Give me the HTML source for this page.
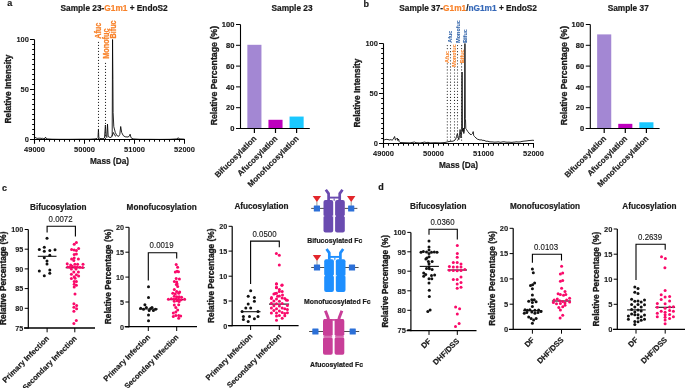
<!DOCTYPE html><html><head><meta charset="utf-8"><style>html,body{margin:0;padding:0;background:#fff}svg{display:block;will-change:transform;font-family:"Liberation Sans",sans-serif}</style></head><body><svg width="685" height="388" viewBox="0 0 685 388"><text transform="translate(7.20 6.10)" font-size="9" font-weight="bold" text-anchor="start" fill="#1a1a1a" stroke="#1a1a1a" stroke-width="0.2" stroke-linejoin="round">a</text>
<text transform="translate(363.60 7.20)" font-size="9" font-weight="bold" text-anchor="start" fill="#1a1a1a" stroke="#1a1a1a" stroke-width="0.2" stroke-linejoin="round">b</text>
<text transform="translate(2.00 190.50)" font-size="9" font-weight="bold" text-anchor="start" fill="#1a1a1a" stroke="#1a1a1a" stroke-width="0.2" stroke-linejoin="round">c</text>
<text transform="translate(378.30 189.80)" font-size="9" font-weight="bold" text-anchor="start" fill="#1a1a1a" stroke="#1a1a1a" stroke-width="0.2" stroke-linejoin="round">d</text>
<path d="M34.50,137.90 L35.00,137.30 L36.00,137.90 L37.00,138.30 L38.00,138.40 L39.00,138.10 L40.00,138.30 L41.00,138.20 L42.00,138.60 L42.50,138.30 L43.00,138.70 L44.00,138.70 L45.00,138.30 L45.50,137.10 L46.00,138.40 L47.00,138.90 L49.00,139.00 L52.00,139.20 L60.00,139.30 L70.00,139.30 L80.00,139.20 L90.00,139.20 L95.00,138.90 L97.00,138.50 L98.00,137.50 L98.45,129.10 L98.80,137.50 L100.00,138.50 L103.00,138.70 L104.50,138.00 L105.40,125.00 L106.00,136.50 L106.80,137.50 L107.50,124.10 L108.20,136.50 L110.00,137.50 L111.00,137.30 L111.90,136.50 L112.20,134.50 L112.55,39.50 L112.90,79.50 L113.10,112.50 L113.80,126.70 L115.30,132.50 L116.80,135.50 L118.70,136.40 L119.80,134.50 L120.70,126.50 L121.70,132.50 L123.20,135.50 L125.10,136.80 L128.00,137.00 L129.50,136.00 L130.10,134.20 L131.00,137.70 L133.00,138.90 L140.00,139.30 L150.00,139.30 L160.00,139.40 L170.00,139.30 L177.00,138.90 L178.30,137.70 L179.00,138.90 L182.00,139.00 L184.50,139.20" fill="none" stroke="#000" stroke-width="0.85" stroke-linejoin="round"/>
<path d="M111.90,136.50 L113.40,132.50 L114.80,135.50 L116.00,136.30" fill="none" stroke="#000" stroke-width="0.85" stroke-linejoin="round"/>
<line x1="34.5" y1="39.5" x2="34.5" y2="143.8" stroke="#000" stroke-width="1.1"/>
<line x1="30.0" y1="139.5" x2="185.0" y2="139.5" stroke="#000" stroke-width="1.1"/>
<line x1="32.2" y1="134.5" x2="34.5" y2="134.5" stroke="#000" stroke-width="1"/>
<line x1="32.2" y1="129.5" x2="34.5" y2="129.5" stroke="#000" stroke-width="1"/>
<line x1="32.2" y1="124.5" x2="34.5" y2="124.5" stroke="#000" stroke-width="1"/>
<line x1="32.2" y1="119.5" x2="34.5" y2="119.5" stroke="#000" stroke-width="1"/>
<line x1="32.2" y1="114.5" x2="34.5" y2="114.5" stroke="#000" stroke-width="1"/>
<line x1="32.2" y1="109.5" x2="34.5" y2="109.5" stroke="#000" stroke-width="1"/>
<line x1="32.2" y1="104.5" x2="34.5" y2="104.5" stroke="#000" stroke-width="1"/>
<line x1="32.2" y1="99.5" x2="34.5" y2="99.5" stroke="#000" stroke-width="1"/>
<line x1="32.2" y1="94.5" x2="34.5" y2="94.5" stroke="#000" stroke-width="1"/>
<line x1="30.0" y1="89.5" x2="34.5" y2="89.5" stroke="#000" stroke-width="1"/>
<line x1="32.2" y1="84.5" x2="34.5" y2="84.5" stroke="#000" stroke-width="1"/>
<line x1="32.2" y1="79.5" x2="34.5" y2="79.5" stroke="#000" stroke-width="1"/>
<line x1="32.2" y1="74.5" x2="34.5" y2="74.5" stroke="#000" stroke-width="1"/>
<line x1="32.2" y1="69.5" x2="34.5" y2="69.5" stroke="#000" stroke-width="1"/>
<line x1="32.2" y1="64.5" x2="34.5" y2="64.5" stroke="#000" stroke-width="1"/>
<line x1="32.2" y1="59.5" x2="34.5" y2="59.5" stroke="#000" stroke-width="1"/>
<line x1="32.2" y1="54.5" x2="34.5" y2="54.5" stroke="#000" stroke-width="1"/>
<line x1="32.2" y1="49.5" x2="34.5" y2="49.5" stroke="#000" stroke-width="1"/>
<line x1="32.2" y1="44.5" x2="34.5" y2="44.5" stroke="#000" stroke-width="1"/>
<line x1="30.0" y1="39.5" x2="34.5" y2="39.5" stroke="#000" stroke-width="1"/>
<line x1="39.5" y1="139.5" x2="39.5" y2="141.7" stroke="#000" stroke-width="1"/>
<line x1="44.5" y1="139.5" x2="44.5" y2="141.7" stroke="#000" stroke-width="1"/>
<line x1="49.5" y1="139.5" x2="49.5" y2="141.7" stroke="#000" stroke-width="1"/>
<line x1="54.5" y1="139.5" x2="54.5" y2="141.7" stroke="#000" stroke-width="1"/>
<line x1="59.5" y1="139.5" x2="59.5" y2="141.7" stroke="#000" stroke-width="1"/>
<line x1="64.5" y1="139.5" x2="64.5" y2="141.7" stroke="#000" stroke-width="1"/>
<line x1="69.5" y1="139.5" x2="69.5" y2="141.7" stroke="#000" stroke-width="1"/>
<line x1="74.5" y1="139.5" x2="74.5" y2="141.7" stroke="#000" stroke-width="1"/>
<line x1="79.5" y1="139.5" x2="79.5" y2="141.7" stroke="#000" stroke-width="1"/>
<line x1="84.5" y1="139.5" x2="84.5" y2="143.8" stroke="#000" stroke-width="1"/>
<line x1="89.5" y1="139.5" x2="89.5" y2="141.7" stroke="#000" stroke-width="1"/>
<line x1="94.5" y1="139.5" x2="94.5" y2="141.7" stroke="#000" stroke-width="1"/>
<line x1="99.5" y1="139.5" x2="99.5" y2="141.7" stroke="#000" stroke-width="1"/>
<line x1="104.5" y1="139.5" x2="104.5" y2="141.7" stroke="#000" stroke-width="1"/>
<line x1="109.5" y1="139.5" x2="109.5" y2="141.7" stroke="#000" stroke-width="1"/>
<line x1="114.5" y1="139.5" x2="114.5" y2="141.7" stroke="#000" stroke-width="1"/>
<line x1="119.5" y1="139.5" x2="119.5" y2="141.7" stroke="#000" stroke-width="1"/>
<line x1="124.5" y1="139.5" x2="124.5" y2="141.7" stroke="#000" stroke-width="1"/>
<line x1="129.5" y1="139.5" x2="129.5" y2="141.7" stroke="#000" stroke-width="1"/>
<line x1="134.5" y1="139.5" x2="134.5" y2="143.8" stroke="#000" stroke-width="1"/>
<line x1="139.5" y1="139.5" x2="139.5" y2="141.7" stroke="#000" stroke-width="1"/>
<line x1="144.5" y1="139.5" x2="144.5" y2="141.7" stroke="#000" stroke-width="1"/>
<line x1="149.5" y1="139.5" x2="149.5" y2="141.7" stroke="#000" stroke-width="1"/>
<line x1="154.5" y1="139.5" x2="154.5" y2="141.7" stroke="#000" stroke-width="1"/>
<line x1="159.5" y1="139.5" x2="159.5" y2="141.7" stroke="#000" stroke-width="1"/>
<line x1="164.5" y1="139.5" x2="164.5" y2="141.7" stroke="#000" stroke-width="1"/>
<line x1="169.5" y1="139.5" x2="169.5" y2="141.7" stroke="#000" stroke-width="1"/>
<line x1="174.5" y1="139.5" x2="174.5" y2="141.7" stroke="#000" stroke-width="1"/>
<line x1="179.5" y1="139.5" x2="179.5" y2="141.7" stroke="#000" stroke-width="1"/>
<line x1="184.5" y1="139.5" x2="184.5" y2="143.8" stroke="#000" stroke-width="1"/>
<text transform="translate(28.90 142.20)" font-size="7.5" font-weight="bold" text-anchor="end" fill="#1a1a1a" stroke="#1a1a1a" stroke-width="0.08" stroke-linejoin="round">0</text>
<text transform="translate(28.90 92.20)" font-size="7.5" font-weight="bold" text-anchor="end" fill="#1a1a1a" stroke="#1a1a1a" stroke-width="0.08" stroke-linejoin="round">50</text>
<text transform="translate(28.90 42.20)" font-size="7.5" font-weight="bold" text-anchor="end" fill="#1a1a1a" stroke="#1a1a1a" stroke-width="0.08" stroke-linejoin="round">100</text>
<text transform="translate(34.50 152.40)" font-size="7.5" font-weight="bold" text-anchor="middle" fill="#1a1a1a" stroke="#1a1a1a" stroke-width="0.08" stroke-linejoin="round">49000</text>
<text transform="translate(84.50 152.40)" font-size="7.5" font-weight="bold" text-anchor="middle" fill="#1a1a1a" stroke="#1a1a1a" stroke-width="0.08" stroke-linejoin="round">50000</text>
<text transform="translate(134.50 152.40)" font-size="7.5" font-weight="bold" text-anchor="middle" fill="#1a1a1a" stroke="#1a1a1a" stroke-width="0.08" stroke-linejoin="round">51000</text>
<text transform="translate(184.50 152.40)" font-size="7.5" font-weight="bold" text-anchor="middle" fill="#1a1a1a" stroke="#1a1a1a" stroke-width="0.08" stroke-linejoin="round">52000</text>
<text transform="translate(11.30 89.00) rotate(-90)" font-size="8.4" font-weight="bold" text-anchor="middle" fill="#1a1a1a" stroke="#1a1a1a" stroke-width="0.35" stroke-linejoin="round">Relative Intensity</text>
<text transform="translate(109.50 164.10)" font-size="8.3" font-weight="bold" text-anchor="middle" fill="#1a1a1a" stroke="#1a1a1a" stroke-width="0.2" stroke-linejoin="round">Mass (Da)</text>
<line x1="98.5" y1="42.45" x2="98.5" y2="139" stroke="#2a2a2a" stroke-width="1.2" stroke-linecap="round" stroke-dasharray="0 3.0"/>
<line x1="105.5" y1="63.45" x2="105.5" y2="139" stroke="#2a2a2a" stroke-width="1.2" stroke-linecap="round" stroke-dasharray="0 3.0"/>
<text transform="translate(60.50 10.90)" font-size="8.3" font-weight="bold" text-anchor="start" fill="#1a1a1a" stroke="#1a1a1a" stroke-width="0.2" stroke-linejoin="round">Sample 23-<tspan fill="#F8822A" stroke="#F8822A">G1m1</tspan> + EndoS2</text>
<text transform="translate(101.00 38.80) rotate(-90) scale(1 1.2)" font-size="7.25" font-weight="bold" text-anchor="start" fill="#F8822A" stroke="#F8822A" stroke-width="0.22" stroke-linejoin="round">Afuc</text>
<text transform="translate(108.60 58.70) rotate(-90) scale(1 1.2)" font-size="7.25" font-weight="bold" text-anchor="start" fill="#F8822A" stroke="#F8822A" stroke-width="0.22" stroke-linejoin="round">Monofuc</text>
<text transform="translate(115.80 38.50) rotate(-90) scale(1 1.2)" font-size="7.25" font-weight="bold" text-anchor="start" fill="#F8822A" stroke="#F8822A" stroke-width="0.22" stroke-linejoin="round">Bifuc</text>
<path d="M383.50,139.50 L385.00,140.00 L386.00,139.00 L387.00,139.70 L388.00,139.30 L389.00,140.00 L390.00,139.90 L391.00,139.50 L392.00,140.30 L393.00,139.50 L394.60,136.50 L395.40,140.00 L396.00,139.50 L397.30,138.00 L397.80,140.50 L398.50,139.00 L399.20,141.50 L400.00,142.50 L405.00,142.70 L410.00,142.90 L414.50,142.00 L416.00,142.70 L420.00,143.00 L425.00,142.00 L426.00,142.70 L428.00,142.30 L430.00,142.90 L435.00,142.70 L440.00,142.90 L445.00,142.50 L447.00,142.00 L449.00,141.50 L451.00,141.30 L453.00,141.20 L454.50,140.50 L455.50,139.50 L456.50,136.50 L457.40,133.50 L458.20,137.50 L458.80,139.70 L459.50,135.50 L460.10,129.50 L460.60,134.50 L461.00,138.00 L461.70,131.50 L462.05,72.00 L462.40,128.50 L462.80,131.50 L463.30,128.00 L463.80,133.50 L464.50,129.50 L464.95,43.50 L465.25,118.50 L465.50,119.50 L465.80,128.50 L466.50,129.50 L467.80,131.60 L469.00,133.00 L470.00,134.30 L471.50,134.50 L472.50,133.50 L473.20,131.60 L473.70,135.50 L474.50,136.50 L476.00,138.00 L477.70,139.30 L479.00,139.60 L480.00,140.10 L481.00,139.70 L482.00,140.10 L483.00,140.50 L484.00,140.20 L485.00,140.90 L486.00,141.10 L487.00,141.40 L488.00,141.00 L489.00,141.90 L490.00,141.60 L491.00,142.10 L492.00,141.70 L493.00,142.20 L494.00,141.90 L495.00,142.40 L496.00,141.80 L497.00,142.30 L498.00,141.60 L499.00,142.20 L500.00,142.00 L501.00,142.50 L502.00,141.70 L503.00,142.10 L504.00,141.50 L505.00,142.20 L506.00,141.90 L507.00,142.40 L508.00,142.00 L509.00,142.30 L510.00,142.10 L511.00,142.50 L512.00,142.20 L513.00,142.40 L514.00,141.90 L515.00,142.30 L516.00,141.60 L517.00,142.10 L518.00,141.80 L519.00,142.20 L520.00,141.70 L521.00,142.00 L522.00,141.10 L523.00,141.60 L524.00,140.80 L525.00,141.40 L526.00,140.60 L527.00,141.20 L528.00,140.30 L529.00,140.90 L530.00,140.20 L531.00,140.70 L532.00,140.00 L533.00,140.50 L534.00,140.20" fill="none" stroke="#000" stroke-width="0.85" stroke-linejoin="round"/>
<line x1="383.5" y1="43.5" x2="383.5" y2="147.8" stroke="#000" stroke-width="1.1"/>
<line x1="379.0" y1="143.5" x2="534.0" y2="143.5" stroke="#000" stroke-width="1.1"/>
<line x1="381.2" y1="138.5" x2="383.5" y2="138.5" stroke="#000" stroke-width="1"/>
<line x1="381.2" y1="133.5" x2="383.5" y2="133.5" stroke="#000" stroke-width="1"/>
<line x1="381.2" y1="128.5" x2="383.5" y2="128.5" stroke="#000" stroke-width="1"/>
<line x1="381.2" y1="123.5" x2="383.5" y2="123.5" stroke="#000" stroke-width="1"/>
<line x1="381.2" y1="118.5" x2="383.5" y2="118.5" stroke="#000" stroke-width="1"/>
<line x1="381.2" y1="113.5" x2="383.5" y2="113.5" stroke="#000" stroke-width="1"/>
<line x1="381.2" y1="108.5" x2="383.5" y2="108.5" stroke="#000" stroke-width="1"/>
<line x1="381.2" y1="103.5" x2="383.5" y2="103.5" stroke="#000" stroke-width="1"/>
<line x1="381.2" y1="98.5" x2="383.5" y2="98.5" stroke="#000" stroke-width="1"/>
<line x1="379.0" y1="93.5" x2="383.5" y2="93.5" stroke="#000" stroke-width="1"/>
<line x1="381.2" y1="88.5" x2="383.5" y2="88.5" stroke="#000" stroke-width="1"/>
<line x1="381.2" y1="83.5" x2="383.5" y2="83.5" stroke="#000" stroke-width="1"/>
<line x1="381.2" y1="78.5" x2="383.5" y2="78.5" stroke="#000" stroke-width="1"/>
<line x1="381.2" y1="73.5" x2="383.5" y2="73.5" stroke="#000" stroke-width="1"/>
<line x1="381.2" y1="68.5" x2="383.5" y2="68.5" stroke="#000" stroke-width="1"/>
<line x1="381.2" y1="63.5" x2="383.5" y2="63.5" stroke="#000" stroke-width="1"/>
<line x1="381.2" y1="58.5" x2="383.5" y2="58.5" stroke="#000" stroke-width="1"/>
<line x1="381.2" y1="53.5" x2="383.5" y2="53.5" stroke="#000" stroke-width="1"/>
<line x1="381.2" y1="48.5" x2="383.5" y2="48.5" stroke="#000" stroke-width="1"/>
<line x1="379.0" y1="43.5" x2="383.5" y2="43.5" stroke="#000" stroke-width="1"/>
<line x1="388.5" y1="143.5" x2="388.5" y2="145.7" stroke="#000" stroke-width="1"/>
<line x1="393.5" y1="143.5" x2="393.5" y2="145.7" stroke="#000" stroke-width="1"/>
<line x1="398.5" y1="143.5" x2="398.5" y2="145.7" stroke="#000" stroke-width="1"/>
<line x1="403.5" y1="143.5" x2="403.5" y2="145.7" stroke="#000" stroke-width="1"/>
<line x1="408.5" y1="143.5" x2="408.5" y2="145.7" stroke="#000" stroke-width="1"/>
<line x1="413.5" y1="143.5" x2="413.5" y2="145.7" stroke="#000" stroke-width="1"/>
<line x1="418.5" y1="143.5" x2="418.5" y2="145.7" stroke="#000" stroke-width="1"/>
<line x1="423.5" y1="143.5" x2="423.5" y2="145.7" stroke="#000" stroke-width="1"/>
<line x1="428.5" y1="143.5" x2="428.5" y2="145.7" stroke="#000" stroke-width="1"/>
<line x1="433.5" y1="143.5" x2="433.5" y2="147.8" stroke="#000" stroke-width="1"/>
<line x1="438.5" y1="143.5" x2="438.5" y2="145.7" stroke="#000" stroke-width="1"/>
<line x1="443.5" y1="143.5" x2="443.5" y2="145.7" stroke="#000" stroke-width="1"/>
<line x1="448.5" y1="143.5" x2="448.5" y2="145.7" stroke="#000" stroke-width="1"/>
<line x1="453.5" y1="143.5" x2="453.5" y2="145.7" stroke="#000" stroke-width="1"/>
<line x1="458.5" y1="143.5" x2="458.5" y2="145.7" stroke="#000" stroke-width="1"/>
<line x1="463.5" y1="143.5" x2="463.5" y2="145.7" stroke="#000" stroke-width="1"/>
<line x1="468.5" y1="143.5" x2="468.5" y2="145.7" stroke="#000" stroke-width="1"/>
<line x1="473.5" y1="143.5" x2="473.5" y2="145.7" stroke="#000" stroke-width="1"/>
<line x1="478.5" y1="143.5" x2="478.5" y2="145.7" stroke="#000" stroke-width="1"/>
<line x1="483.5" y1="143.5" x2="483.5" y2="147.8" stroke="#000" stroke-width="1"/>
<line x1="488.5" y1="143.5" x2="488.5" y2="145.7" stroke="#000" stroke-width="1"/>
<line x1="493.5" y1="143.5" x2="493.5" y2="145.7" stroke="#000" stroke-width="1"/>
<line x1="498.5" y1="143.5" x2="498.5" y2="145.7" stroke="#000" stroke-width="1"/>
<line x1="503.5" y1="143.5" x2="503.5" y2="145.7" stroke="#000" stroke-width="1"/>
<line x1="508.5" y1="143.5" x2="508.5" y2="145.7" stroke="#000" stroke-width="1"/>
<line x1="513.5" y1="143.5" x2="513.5" y2="145.7" stroke="#000" stroke-width="1"/>
<line x1="518.5" y1="143.5" x2="518.5" y2="145.7" stroke="#000" stroke-width="1"/>
<line x1="523.5" y1="143.5" x2="523.5" y2="145.7" stroke="#000" stroke-width="1"/>
<line x1="528.5" y1="143.5" x2="528.5" y2="145.7" stroke="#000" stroke-width="1"/>
<line x1="533.5" y1="143.5" x2="533.5" y2="147.8" stroke="#000" stroke-width="1"/>
<text transform="translate(377.90 146.20)" font-size="7.5" font-weight="bold" text-anchor="end" fill="#1a1a1a" stroke="#1a1a1a" stroke-width="0.08" stroke-linejoin="round">0</text>
<text transform="translate(377.90 96.20)" font-size="7.5" font-weight="bold" text-anchor="end" fill="#1a1a1a" stroke="#1a1a1a" stroke-width="0.08" stroke-linejoin="round">50</text>
<text transform="translate(377.90 46.20)" font-size="7.5" font-weight="bold" text-anchor="end" fill="#1a1a1a" stroke="#1a1a1a" stroke-width="0.08" stroke-linejoin="round">100</text>
<text transform="translate(383.50 156.40)" font-size="7.5" font-weight="bold" text-anchor="middle" fill="#1a1a1a" stroke="#1a1a1a" stroke-width="0.08" stroke-linejoin="round">49000</text>
<text transform="translate(433.50 156.40)" font-size="7.5" font-weight="bold" text-anchor="middle" fill="#1a1a1a" stroke="#1a1a1a" stroke-width="0.08" stroke-linejoin="round">50000</text>
<text transform="translate(483.50 156.40)" font-size="7.5" font-weight="bold" text-anchor="middle" fill="#1a1a1a" stroke="#1a1a1a" stroke-width="0.08" stroke-linejoin="round">51000</text>
<text transform="translate(533.50 156.40)" font-size="7.5" font-weight="bold" text-anchor="middle" fill="#1a1a1a" stroke="#1a1a1a" stroke-width="0.08" stroke-linejoin="round">52000</text>
<text transform="translate(360.30 93.00) rotate(-90)" font-size="8.4" font-weight="bold" text-anchor="middle" fill="#1a1a1a" stroke="#1a1a1a" stroke-width="0.35" stroke-linejoin="round">Relative Intensity</text>
<text transform="translate(458.50 168.10)" font-size="8.3" font-weight="bold" text-anchor="middle" fill="#1a1a1a" stroke="#1a1a1a" stroke-width="0.2" stroke-linejoin="round">Mass (Da)</text>
<line x1="447.3" y1="45.55" x2="447.3" y2="143" stroke="#2a2a2a" stroke-width="1.2" stroke-linecap="round" stroke-dasharray="0 3.05"/>
<line x1="450.5" y1="45.55" x2="450.5" y2="143" stroke="#2a2a2a" stroke-width="1.2" stroke-linecap="round" stroke-dasharray="0 3.05"/>
<line x1="454.5" y1="45.55" x2="454.5" y2="143" stroke="#2a2a2a" stroke-width="1.2" stroke-linecap="round" stroke-dasharray="0 3.05"/>
<line x1="457.5" y1="45.55" x2="457.5" y2="143" stroke="#2a2a2a" stroke-width="1.2" stroke-linecap="round" stroke-dasharray="0 3.05"/>
<line x1="461.6" y1="45.55" x2="461.6" y2="143" stroke="#2a2a2a" stroke-width="1.2" stroke-linecap="round" stroke-dasharray="0 3.05"/>
<text transform="translate(399.30 11.10)" font-size="8.3" font-weight="bold" text-anchor="start" fill="#1a1a1a" stroke="#1a1a1a" stroke-width="0.2" stroke-linejoin="round">Sample 37-<tspan fill="#F8822A" stroke="#F8822A">G1m1</tspan>/<tspan fill="#3568B8" stroke="#3568B8">nG1m1</tspan> + EndoS2</text>
<text transform="translate(452.10 42.70) rotate(-90)" font-size="5.4" font-weight="bold" text-anchor="start" fill="#2B5FA6" stroke="#2B5FA6" stroke-width="0.05" stroke-linejoin="round">Afuc</text>
<text transform="translate(459.50 42.70) rotate(-90)" font-size="5.4" font-weight="bold" text-anchor="start" fill="#2B5FA6" stroke="#2B5FA6" stroke-width="0.05" stroke-linejoin="round">Monofuc</text>
<text transform="translate(467.00 42.70) rotate(-90)" font-size="5.4" font-weight="bold" text-anchor="start" fill="#2B5FA6" stroke="#2B5FA6" stroke-width="0.05" stroke-linejoin="round">Bifuc</text>
<rect x="444.8" y="50.599999999999994" width="4.2" height="12.3" fill="#fff"/>
<text transform="translate(448.70 62.90) rotate(-90)" font-size="5.4" font-weight="bold" text-anchor="start" fill="#F8822A" stroke="#F8822A" stroke-width="0.05" stroke-linejoin="round">Afuc</text>
<rect x="452.3" y="44.199999999999996" width="4.2" height="22.6" fill="#fff"/>
<text transform="translate(456.20 66.80) rotate(-90)" font-size="5.4" font-weight="bold" text-anchor="start" fill="#F8822A" stroke="#F8822A" stroke-width="0.05" stroke-linejoin="round">Monofuc</text>
<rect x="459.6" y="49.7" width="4.2" height="13.2" fill="#fff"/>
<text transform="translate(463.50 62.90) rotate(-90)" font-size="5.4" font-weight="bold" text-anchor="start" fill="#F8822A" stroke="#F8822A" stroke-width="0.05" stroke-linejoin="round">Bifuc</text>
<line x1="240.5" y1="24.5" x2="240.5" y2="129.0" stroke="#000" stroke-width="1.1"/>
<line x1="236.0" y1="128.5" x2="309.8" y2="128.5" stroke="#000" stroke-width="1.2"/>
<line x1="236.0" y1="128.5" x2="240.5" y2="128.5" stroke="#000" stroke-width="1"/>
<text transform="translate(234.30 131.20)" font-size="7.5" font-weight="bold" text-anchor="end" fill="#1a1a1a" stroke="#1a1a1a" stroke-width="0.2" stroke-linejoin="round">0</text>
<line x1="236.0" y1="107.7" x2="240.5" y2="107.7" stroke="#000" stroke-width="1"/>
<text transform="translate(234.30 110.40)" font-size="7.5" font-weight="bold" text-anchor="end" fill="#1a1a1a" stroke="#1a1a1a" stroke-width="0.2" stroke-linejoin="round">20</text>
<line x1="236.0" y1="86.9" x2="240.5" y2="86.9" stroke="#000" stroke-width="1"/>
<text transform="translate(234.30 89.60)" font-size="7.5" font-weight="bold" text-anchor="end" fill="#1a1a1a" stroke="#1a1a1a" stroke-width="0.2" stroke-linejoin="round">40</text>
<line x1="236.0" y1="66.1" x2="240.5" y2="66.1" stroke="#000" stroke-width="1"/>
<text transform="translate(234.30 68.80)" font-size="7.5" font-weight="bold" text-anchor="end" fill="#1a1a1a" stroke="#1a1a1a" stroke-width="0.2" stroke-linejoin="round">60</text>
<line x1="236.0" y1="45.3" x2="240.5" y2="45.3" stroke="#000" stroke-width="1"/>
<text transform="translate(234.30 48.00)" font-size="7.5" font-weight="bold" text-anchor="end" fill="#1a1a1a" stroke="#1a1a1a" stroke-width="0.2" stroke-linejoin="round">80</text>
<line x1="236.0" y1="24.5" x2="240.5" y2="24.5" stroke="#000" stroke-width="1"/>
<text transform="translate(234.30 27.20)" font-size="7.5" font-weight="bold" text-anchor="end" fill="#1a1a1a" stroke="#1a1a1a" stroke-width="0.2" stroke-linejoin="round">100</text>
<rect x="247.35" y="44.80" width="14.1" height="83.20" fill="#A387D3"/>
<line x1="254.4" y1="128.5" x2="254.4" y2="133.0" stroke="#000" stroke-width="1.2"/>
<rect x="268.45" y="119.78" width="14.1" height="8.22" fill="#BE00BE"/>
<line x1="275.5" y1="128.5" x2="275.5" y2="133.0" stroke="#000" stroke-width="1.2"/>
<rect x="289.55" y="116.56" width="14.1" height="11.44" fill="#1AC8FF"/>
<line x1="296.6" y1="128.5" x2="296.6" y2="133.0" stroke="#000" stroke-width="1.2"/>
<text transform="translate(256.90 139.10) rotate(-45)" font-size="8.0" font-weight="bold" text-anchor="end" fill="#1a1a1a" stroke="#1a1a1a" stroke-width="0.2" stroke-linejoin="round">Bifucosylation</text>
<text transform="translate(278.00 139.10) rotate(-45)" font-size="8.0" font-weight="bold" text-anchor="end" fill="#1a1a1a" stroke="#1a1a1a" stroke-width="0.2" stroke-linejoin="round">Afucosylation</text>
<text transform="translate(299.10 139.10) rotate(-45)" font-size="8.0" font-weight="bold" text-anchor="end" fill="#1a1a1a" stroke="#1a1a1a" stroke-width="0.2" stroke-linejoin="round">Monofucosylation</text>
<text transform="translate(216.90 75.65) rotate(-90)" font-size="8.77" font-weight="bold" text-anchor="middle" fill="#1a1a1a" stroke="#1a1a1a" stroke-width="0.35" stroke-linejoin="round">Relative Percentage (%)</text>
<text transform="translate(271.50 10.80)" font-size="8.3" font-weight="bold" text-anchor="start" fill="#1a1a1a" stroke="#1a1a1a" stroke-width="0.2" stroke-linejoin="round">Sample 23</text>
<line x1="590.3" y1="24.5" x2="590.3" y2="129.0" stroke="#000" stroke-width="1.1"/>
<line x1="585.8" y1="128.5" x2="659.5999999999999" y2="128.5" stroke="#000" stroke-width="1.2"/>
<line x1="585.8" y1="128.5" x2="590.3" y2="128.5" stroke="#000" stroke-width="1"/>
<text transform="translate(584.10 131.20)" font-size="7.5" font-weight="bold" text-anchor="end" fill="#1a1a1a" stroke="#1a1a1a" stroke-width="0.2" stroke-linejoin="round">0</text>
<line x1="585.8" y1="107.7" x2="590.3" y2="107.7" stroke="#000" stroke-width="1"/>
<text transform="translate(584.10 110.40)" font-size="7.5" font-weight="bold" text-anchor="end" fill="#1a1a1a" stroke="#1a1a1a" stroke-width="0.2" stroke-linejoin="round">20</text>
<line x1="585.8" y1="86.9" x2="590.3" y2="86.9" stroke="#000" stroke-width="1"/>
<text transform="translate(584.10 89.60)" font-size="7.5" font-weight="bold" text-anchor="end" fill="#1a1a1a" stroke="#1a1a1a" stroke-width="0.2" stroke-linejoin="round">40</text>
<line x1="585.8" y1="66.1" x2="590.3" y2="66.1" stroke="#000" stroke-width="1"/>
<text transform="translate(584.10 68.80)" font-size="7.5" font-weight="bold" text-anchor="end" fill="#1a1a1a" stroke="#1a1a1a" stroke-width="0.2" stroke-linejoin="round">60</text>
<line x1="585.8" y1="45.3" x2="590.3" y2="45.3" stroke="#000" stroke-width="1"/>
<text transform="translate(584.10 48.00)" font-size="7.5" font-weight="bold" text-anchor="end" fill="#1a1a1a" stroke="#1a1a1a" stroke-width="0.2" stroke-linejoin="round">80</text>
<line x1="585.8" y1="24.5" x2="590.3" y2="24.5" stroke="#000" stroke-width="1"/>
<text transform="translate(584.10 27.20)" font-size="7.5" font-weight="bold" text-anchor="end" fill="#1a1a1a" stroke="#1a1a1a" stroke-width="0.2" stroke-linejoin="round">100</text>
<rect x="597.15" y="34.40" width="14.1" height="93.60" fill="#A387D3"/>
<line x1="604.1999999999999" y1="128.5" x2="604.1999999999999" y2="133.0" stroke="#000" stroke-width="1.2"/>
<rect x="618.25" y="123.84" width="14.1" height="4.16" fill="#BE00BE"/>
<line x1="625.3" y1="128.5" x2="625.3" y2="133.0" stroke="#000" stroke-width="1.2"/>
<rect x="639.35" y="122.28" width="14.1" height="5.72" fill="#1AC8FF"/>
<line x1="646.4" y1="128.5" x2="646.4" y2="133.0" stroke="#000" stroke-width="1.2"/>
<text transform="translate(606.70 139.10) rotate(-45)" font-size="8.0" font-weight="bold" text-anchor="end" fill="#1a1a1a" stroke="#1a1a1a" stroke-width="0.2" stroke-linejoin="round">Bifucosylation</text>
<text transform="translate(627.80 139.10) rotate(-45)" font-size="8.0" font-weight="bold" text-anchor="end" fill="#1a1a1a" stroke="#1a1a1a" stroke-width="0.2" stroke-linejoin="round">Afucosylation</text>
<text transform="translate(648.90 139.10) rotate(-45)" font-size="8.0" font-weight="bold" text-anchor="end" fill="#1a1a1a" stroke="#1a1a1a" stroke-width="0.2" stroke-linejoin="round">Monofucosylation</text>
<text transform="translate(566.60 75.65) rotate(-90)" font-size="8.77" font-weight="bold" text-anchor="middle" fill="#1a1a1a" stroke="#1a1a1a" stroke-width="0.35" stroke-linejoin="round">Relative Percentage (%)</text>
<text transform="translate(607.70 10.80)" font-size="8.3" font-weight="bold" text-anchor="start" fill="#1a1a1a" stroke="#1a1a1a" stroke-width="0.2" stroke-linejoin="round">Sample 37</text>
<line x1="28.3" y1="229.5" x2="28.3" y2="328.6" stroke="#000" stroke-width="1.2"/>
<line x1="24.0" y1="328.0" x2="95.0" y2="328.0" stroke="#000" stroke-width="1.3"/>
<line x1="24.7" y1="328.0" x2="28.3" y2="328.0" stroke="#000" stroke-width="1"/>
<text transform="translate(23.30 330.70)" font-size="7.2" font-weight="bold" text-anchor="end" fill="#1a1a1a" stroke="#1a1a1a" stroke-width="0.1" stroke-linejoin="round">75</text>
<line x1="24.7" y1="308.3" x2="28.3" y2="308.3" stroke="#000" stroke-width="1"/>
<text transform="translate(23.30 311.00)" font-size="7.2" font-weight="bold" text-anchor="end" fill="#1a1a1a" stroke="#1a1a1a" stroke-width="0.1" stroke-linejoin="round">80</text>
<line x1="24.7" y1="288.6" x2="28.3" y2="288.6" stroke="#000" stroke-width="1"/>
<text transform="translate(23.30 291.30)" font-size="7.2" font-weight="bold" text-anchor="end" fill="#1a1a1a" stroke="#1a1a1a" stroke-width="0.1" stroke-linejoin="round">85</text>
<line x1="24.7" y1="268.9" x2="28.3" y2="268.9" stroke="#000" stroke-width="1"/>
<text transform="translate(23.30 271.60)" font-size="7.2" font-weight="bold" text-anchor="end" fill="#1a1a1a" stroke="#1a1a1a" stroke-width="0.1" stroke-linejoin="round">90</text>
<line x1="24.7" y1="249.2" x2="28.3" y2="249.2" stroke="#000" stroke-width="1"/>
<text transform="translate(23.30 251.90)" font-size="7.2" font-weight="bold" text-anchor="end" fill="#1a1a1a" stroke="#1a1a1a" stroke-width="0.1" stroke-linejoin="round">95</text>
<line x1="24.7" y1="229.5" x2="28.3" y2="229.5" stroke="#000" stroke-width="1"/>
<text transform="translate(23.30 232.20)" font-size="7.2" font-weight="bold" text-anchor="end" fill="#1a1a1a" stroke="#1a1a1a" stroke-width="0.1" stroke-linejoin="round">100</text>
<line x1="47.1" y1="328.0" x2="47.1" y2="332.3" stroke="#000" stroke-width="1"/>
<line x1="74.8" y1="328.0" x2="74.8" y2="332.3" stroke="#000" stroke-width="1"/>
<text transform="translate(30.00 209.80)" font-size="8.2" font-weight="bold" text-anchor="start" fill="#1a1a1a" stroke="#1a1a1a" stroke-width="0.2" stroke-linejoin="round">Bifucosylation</text>
<text transform="translate(48.60 222.00) scale(1 1.16)" font-size="8.1" font-weight="normal" text-anchor="start" fill="#1a1a1a" stroke="#1a1a1a" stroke-width="0.12" stroke-linejoin="round" textLength="24.0" lengthAdjust="spacingAndGlyphs">0.0072</text>
<path d="M47.1,232.4 L47.1,226.2 L75.4,226.2 L75.4,236.5" fill="none" stroke="#000" stroke-width="1.1"/>
<line x1="37.8" y1="256.3" x2="56.5" y2="256.3" stroke="#111" stroke-width="1.1"/>
<line x1="65.7" y1="267.7" x2="84.6" y2="267.7" stroke="#111" stroke-width="1.1"/>
<circle cx="47.0" cy="238.2" r="1.5" fill="#111"/>
<circle cx="44.3" cy="247.2" r="1.5" fill="#111"/>
<circle cx="39.3" cy="249.4" r="1.5" fill="#111"/>
<circle cx="44.3" cy="251.3" r="1.5" fill="#111"/>
<circle cx="49.8" cy="250.4" r="1.5" fill="#111"/>
<circle cx="55" cy="249.8" r="1.5" fill="#111"/>
<circle cx="49.8" cy="255.2" r="1.5" fill="#111"/>
<circle cx="44.3" cy="257.8" r="1.5" fill="#111"/>
<circle cx="47" cy="261" r="1.5" fill="#111"/>
<circle cx="47" cy="264" r="1.5" fill="#111"/>
<circle cx="39.3" cy="271" r="1.5" fill="#111"/>
<circle cx="49.8" cy="270" r="1.5" fill="#111"/>
<circle cx="49.8" cy="273.2" r="1.5" fill="#111"/>
<circle cx="44.3" cy="275.8" r="1.5" fill="#111"/>
<circle cx="76.4" cy="242.6" r="1.5" fill="#FA0A6A"/>
<circle cx="74.2" cy="244.2" r="1.5" fill="#FA0A6A"/>
<circle cx="71.6" cy="249.4" r="1.5" fill="#FA0A6A"/>
<circle cx="74.2" cy="250.1" r="1.5" fill="#FA0A6A"/>
<circle cx="76.4" cy="250.5" r="1.5" fill="#FA0A6A"/>
<circle cx="78.6" cy="248.6" r="1.5" fill="#FA0A6A"/>
<circle cx="74.2" cy="254.4" r="1.5" fill="#FA0A6A"/>
<circle cx="76.4" cy="254" r="1.5" fill="#FA0A6A"/>
<circle cx="71.6" cy="259.1" r="1.5" fill="#FA0A6A"/>
<circle cx="74.2" cy="257.9" r="1.5" fill="#FA0A6A"/>
<circle cx="78.4" cy="259.1" r="1.5" fill="#FA0A6A"/>
<circle cx="73.8" cy="260.6" r="1.5" fill="#FA0A6A"/>
<circle cx="67.2" cy="263.7" r="1.5" fill="#FA0A6A"/>
<circle cx="70.7" cy="264.9" r="1.5" fill="#FA0A6A"/>
<circle cx="74.9" cy="264.3" r="1.5" fill="#FA0A6A"/>
<circle cx="77.6" cy="264.3" r="1.5" fill="#FA0A6A"/>
<circle cx="83" cy="264.3" r="1.5" fill="#FA0A6A"/>
<circle cx="67.7" cy="266.9" r="1.5" fill="#FA0A6A"/>
<circle cx="69.9" cy="267.2" r="1.5" fill="#FA0A6A"/>
<circle cx="72.3" cy="266.3" r="1.5" fill="#FA0A6A"/>
<circle cx="74.9" cy="267.2" r="1.5" fill="#FA0A6A"/>
<circle cx="77.3" cy="266.9" r="1.5" fill="#FA0A6A"/>
<circle cx="79.9" cy="267.2" r="1.5" fill="#FA0A6A"/>
<circle cx="82.6" cy="267.4" r="1.5" fill="#FA0A6A"/>
<circle cx="71.4" cy="269" r="1.5" fill="#FA0A6A"/>
<circle cx="76" cy="269" r="1.5" fill="#FA0A6A"/>
<circle cx="73.8" cy="271.9" r="1.5" fill="#FA0A6A"/>
<circle cx="78.4" cy="271.9" r="1.5" fill="#FA0A6A"/>
<circle cx="71.4" cy="274.2" r="1.5" fill="#FA0A6A"/>
<circle cx="76.4" cy="274.8" r="1.5" fill="#FA0A6A"/>
<circle cx="78.6" cy="276" r="1.5" fill="#FA0A6A"/>
<circle cx="74.2" cy="276.8" r="1.5" fill="#FA0A6A"/>
<circle cx="71.4" cy="278.6" r="1.5" fill="#FA0A6A"/>
<circle cx="75.1" cy="278.3" r="1.5" fill="#FA0A6A"/>
<circle cx="74.2" cy="281.4" r="1.5" fill="#FA0A6A"/>
<circle cx="76.4" cy="281.4" r="1.5" fill="#FA0A6A"/>
<circle cx="74.2" cy="284.2" r="1.5" fill="#FA0A6A"/>
<circle cx="76.4" cy="285.3" r="1.5" fill="#FA0A6A"/>
<circle cx="74.2" cy="287.1" r="1.5" fill="#FA0A6A"/>
<circle cx="75" cy="294" r="1.5" fill="#FA0A6A"/>
<circle cx="73.9" cy="303.7" r="1.5" fill="#FA0A6A"/>
<circle cx="76.6" cy="305.5" r="1.5" fill="#FA0A6A"/>
<circle cx="73.9" cy="307.3" r="1.5" fill="#FA0A6A"/>
<circle cx="76.6" cy="308.8" r="1.5" fill="#FA0A6A"/>
<circle cx="73.9" cy="311.3" r="1.5" fill="#FA0A6A"/>
<circle cx="76.3" cy="320.5" r="1.5" fill="#FA0A6A"/>
<circle cx="73.9" cy="323.5" r="1.5" fill="#FA0A6A"/>
<text transform="translate(49.60 339.00) rotate(-45)" font-size="7.65" font-weight="bold" text-anchor="end" fill="#1a1a1a" stroke="#1a1a1a" stroke-width="0.2" stroke-linejoin="round">Primary Infection</text>
<text transform="translate(77.30 339.00) rotate(-45)" font-size="7.65" font-weight="bold" text-anchor="end" fill="#1a1a1a" stroke="#1a1a1a" stroke-width="0.2" stroke-linejoin="round">Secondary Infection</text>
<text transform="translate(6.40 278.25) rotate(-90)" font-size="8.24" font-weight="bold" text-anchor="middle" fill="#1a1a1a" stroke="#1a1a1a" stroke-width="0.35" stroke-linejoin="round">Relative Percentage (%)</text>
<line x1="129.0" y1="227.3" x2="129.0" y2="327.3" stroke="#000" stroke-width="1.2"/>
<line x1="124.7" y1="326.7" x2="197.0" y2="326.7" stroke="#000" stroke-width="1.3"/>
<line x1="125.4" y1="326.9" x2="129.0" y2="326.9" stroke="#000" stroke-width="1"/>
<text transform="translate(124.00 329.60)" font-size="7.2" font-weight="bold" text-anchor="end" fill="#1a1a1a" stroke="#1a1a1a" stroke-width="0.1" stroke-linejoin="round">0</text>
<line x1="125.4" y1="302.0" x2="129.0" y2="302.0" stroke="#000" stroke-width="1"/>
<text transform="translate(124.00 304.70)" font-size="7.2" font-weight="bold" text-anchor="end" fill="#1a1a1a" stroke="#1a1a1a" stroke-width="0.1" stroke-linejoin="round">5</text>
<line x1="125.4" y1="277.1" x2="129.0" y2="277.1" stroke="#000" stroke-width="1"/>
<text transform="translate(124.00 279.80)" font-size="7.2" font-weight="bold" text-anchor="end" fill="#1a1a1a" stroke="#1a1a1a" stroke-width="0.1" stroke-linejoin="round">10</text>
<line x1="125.4" y1="252.2" x2="129.0" y2="252.2" stroke="#000" stroke-width="1"/>
<text transform="translate(124.00 254.90)" font-size="7.2" font-weight="bold" text-anchor="end" fill="#1a1a1a" stroke="#1a1a1a" stroke-width="0.1" stroke-linejoin="round">15</text>
<line x1="125.4" y1="227.3" x2="129.0" y2="227.3" stroke="#000" stroke-width="1"/>
<text transform="translate(124.00 230.00)" font-size="7.2" font-weight="bold" text-anchor="end" fill="#1a1a1a" stroke="#1a1a1a" stroke-width="0.1" stroke-linejoin="round">20</text>
<line x1="148.3" y1="326.7" x2="148.3" y2="331.0" stroke="#000" stroke-width="1"/>
<line x1="176.7" y1="326.7" x2="176.7" y2="331.0" stroke="#000" stroke-width="1"/>
<text transform="translate(126.60 209.70)" font-size="8.2" font-weight="bold" text-anchor="start" fill="#1a1a1a" stroke="#1a1a1a" stroke-width="0.2" stroke-linejoin="round">Monofucosylation</text>
<text transform="translate(149.60 247.60) scale(1 1.16)" font-size="8.1" font-weight="normal" text-anchor="start" fill="#1a1a1a" stroke="#1a1a1a" stroke-width="0.12" stroke-linejoin="round" textLength="24.0" lengthAdjust="spacingAndGlyphs">0.0019</text>
<path d="M148.3,280.4 L148.3,252.7 L176.7,252.7 L176.7,258.4" fill="none" stroke="#000" stroke-width="1.1"/>
<line x1="139.0" y1="309.0" x2="157.7" y2="309.0" stroke="#111" stroke-width="1.1"/>
<line x1="168.5" y1="299.6" x2="186.0" y2="299.6" stroke="#111" stroke-width="1.1"/>
<circle cx="148.5" cy="286.7" r="1.5" fill="#111"/>
<circle cx="148.5" cy="297.6" r="1.5" fill="#111"/>
<circle cx="144.9" cy="304.7" r="1.5" fill="#111"/>
<circle cx="140.7" cy="308.3" r="1.5" fill="#111"/>
<circle cx="143.5" cy="309.3" r="1.5" fill="#111"/>
<circle cx="146.3" cy="307.6" r="1.5" fill="#111"/>
<circle cx="149.2" cy="310.4" r="1.5" fill="#111"/>
<circle cx="152" cy="307.6" r="1.5" fill="#111"/>
<circle cx="153.4" cy="310.4" r="1.5" fill="#111"/>
<circle cx="148.5" cy="315.1" r="1.5" fill="#111"/>
<circle cx="148.5" cy="320.7" r="1.5" fill="#111"/>
<circle cx="150.6" cy="308.6" r="1.5" fill="#111"/>
<circle cx="155.6" cy="309.2" r="1.5" fill="#111"/>
<circle cx="176.2" cy="264.5" r="1.5" fill="#FA0A6A"/>
<circle cx="177.6" cy="267.2" r="1.5" fill="#FA0A6A"/>
<circle cx="175.3" cy="272.1" r="1.5" fill="#FA0A6A"/>
<circle cx="177.1" cy="271.2" r="1.5" fill="#FA0A6A"/>
<circle cx="178.5" cy="271.7" r="1.5" fill="#FA0A6A"/>
<circle cx="176.2" cy="278.4" r="1.5" fill="#FA0A6A"/>
<circle cx="179.4" cy="278.9" r="1.5" fill="#FA0A6A"/>
<circle cx="174.4" cy="281.6" r="1.5" fill="#FA0A6A"/>
<circle cx="176.7" cy="282" r="1.5" fill="#FA0A6A"/>
<circle cx="177.1" cy="283.9" r="1.5" fill="#FA0A6A"/>
<circle cx="176.3" cy="284.5" r="1.5" fill="#FA0A6A"/>
<circle cx="177.7" cy="286.5" r="1.5" fill="#FA0A6A"/>
<circle cx="174.3" cy="289.4" r="1.5" fill="#FA0A6A"/>
<circle cx="176.7" cy="291.4" r="1.5" fill="#FA0A6A"/>
<circle cx="179.7" cy="292" r="1.5" fill="#FA0A6A"/>
<circle cx="172.8" cy="293.3" r="1.5" fill="#FA0A6A"/>
<circle cx="175.3" cy="293.8" r="1.5" fill="#FA0A6A"/>
<circle cx="178.7" cy="293.3" r="1.5" fill="#FA0A6A"/>
<circle cx="174.3" cy="296.3" r="1.5" fill="#FA0A6A"/>
<circle cx="176.7" cy="296.7" r="1.5" fill="#FA0A6A"/>
<circle cx="179.2" cy="296.7" r="1.5" fill="#FA0A6A"/>
<circle cx="181.6" cy="297.2" r="1.5" fill="#FA0A6A"/>
<circle cx="168.4" cy="299.2" r="1.5" fill="#FA0A6A"/>
<circle cx="171.4" cy="298.7" r="1.5" fill="#FA0A6A"/>
<circle cx="173.8" cy="299.2" r="1.5" fill="#FA0A6A"/>
<circle cx="176.3" cy="298.7" r="1.5" fill="#FA0A6A"/>
<circle cx="178.7" cy="299.2" r="1.5" fill="#FA0A6A"/>
<circle cx="181.2" cy="299.7" r="1.5" fill="#FA0A6A"/>
<circle cx="184.6" cy="299.2" r="1.5" fill="#FA0A6A"/>
<circle cx="174.3" cy="301.2" r="1.5" fill="#FA0A6A"/>
<circle cx="177.2" cy="300.7" r="1.5" fill="#FA0A6A"/>
<circle cx="179.2" cy="301.6" r="1.5" fill="#FA0A6A"/>
<circle cx="174.3" cy="305.1" r="1.5" fill="#FA0A6A"/>
<circle cx="178.7" cy="304.8" r="1.5" fill="#FA0A6A"/>
<circle cx="175.8" cy="307.5" r="1.5" fill="#FA0A6A"/>
<circle cx="177.7" cy="310" r="1.5" fill="#FA0A6A"/>
<circle cx="173.3" cy="312.9" r="1.5" fill="#FA0A6A"/>
<circle cx="175.8" cy="311.9" r="1.5" fill="#FA0A6A"/>
<circle cx="173.3" cy="316.4" r="1.5" fill="#FA0A6A"/>
<circle cx="175.8" cy="315.4" r="1.5" fill="#FA0A6A"/>
<circle cx="178.7" cy="315.4" r="1.5" fill="#FA0A6A"/>
<circle cx="180.7" cy="315.9" r="1.5" fill="#FA0A6A"/>
<circle cx="178.7" cy="318.3" r="1.5" fill="#FA0A6A"/>
<text transform="translate(150.70 337.70) rotate(-45)" font-size="7.65" font-weight="bold" text-anchor="end" fill="#1a1a1a" stroke="#1a1a1a" stroke-width="0.2" stroke-linejoin="round">Primary Infection</text>
<text transform="translate(179.10 337.70) rotate(-45)" font-size="7.65" font-weight="bold" text-anchor="end" fill="#1a1a1a" stroke="#1a1a1a" stroke-width="0.2" stroke-linejoin="round">Secondary Infection</text>
<text transform="translate(111.20 276.70) rotate(-90)" font-size="8.42" font-weight="bold" text-anchor="middle" fill="#1a1a1a" stroke="#1a1a1a" stroke-width="0.35" stroke-linejoin="round">Relative Percentage (%)</text>
<line x1="232.2" y1="226.3" x2="232.2" y2="326.3" stroke="#000" stroke-width="1.2"/>
<line x1="227.89999999999998" y1="325.7" x2="298.6" y2="325.7" stroke="#000" stroke-width="1.3"/>
<line x1="228.6" y1="325.8" x2="232.2" y2="325.8" stroke="#000" stroke-width="1"/>
<text transform="translate(227.20 328.50)" font-size="7.2" font-weight="bold" text-anchor="end" fill="#1a1a1a" stroke="#1a1a1a" stroke-width="0.1" stroke-linejoin="round">0</text>
<line x1="228.6" y1="301.0" x2="232.2" y2="301.0" stroke="#000" stroke-width="1"/>
<text transform="translate(227.20 303.70)" font-size="7.2" font-weight="bold" text-anchor="end" fill="#1a1a1a" stroke="#1a1a1a" stroke-width="0.1" stroke-linejoin="round">5</text>
<line x1="228.6" y1="276.2" x2="232.2" y2="276.2" stroke="#000" stroke-width="1"/>
<text transform="translate(227.20 278.90)" font-size="7.2" font-weight="bold" text-anchor="end" fill="#1a1a1a" stroke="#1a1a1a" stroke-width="0.1" stroke-linejoin="round">10</text>
<line x1="228.6" y1="251.1" x2="232.2" y2="251.1" stroke="#000" stroke-width="1"/>
<text transform="translate(227.20 253.80)" font-size="7.2" font-weight="bold" text-anchor="end" fill="#1a1a1a" stroke="#1a1a1a" stroke-width="0.1" stroke-linejoin="round">15</text>
<line x1="228.6" y1="226.3" x2="232.2" y2="226.3" stroke="#000" stroke-width="1"/>
<text transform="translate(227.20 229.00)" font-size="7.2" font-weight="bold" text-anchor="end" fill="#1a1a1a" stroke="#1a1a1a" stroke-width="0.1" stroke-linejoin="round">20</text>
<line x1="250.6" y1="325.7" x2="250.6" y2="330.0" stroke="#000" stroke-width="1"/>
<line x1="279.3" y1="325.7" x2="279.3" y2="330.0" stroke="#000" stroke-width="1"/>
<text transform="translate(234.40 208.90)" font-size="8.2" font-weight="bold" text-anchor="start" fill="#1a1a1a" stroke="#1a1a1a" stroke-width="0.2" stroke-linejoin="round">Afucosylation</text>
<text transform="translate(252.50 236.80) scale(1 1.16)" font-size="8.1" font-weight="normal" text-anchor="start" fill="#1a1a1a" stroke="#1a1a1a" stroke-width="0.12" stroke-linejoin="round" textLength="24.0" lengthAdjust="spacingAndGlyphs">0.0500</text>
<path d="M250.6,284.0 L250.6,241.1 L279.3,241.1 L279.3,247.3" fill="none" stroke="#000" stroke-width="1.1"/>
<line x1="240.9" y1="311.7" x2="260.5" y2="311.7" stroke="#111" stroke-width="1.1"/>
<line x1="269.0" y1="304.1" x2="289.1" y2="304.1" stroke="#111" stroke-width="1.1"/>
<circle cx="250.7" cy="290.7" r="1.5" fill="#111"/>
<circle cx="248.2" cy="296.3" r="1.5" fill="#111"/>
<circle cx="254.4" cy="297.5" r="1.5" fill="#111"/>
<circle cx="254.4" cy="301.2" r="1.5" fill="#111"/>
<circle cx="248.2" cy="304.1" r="1.5" fill="#111"/>
<circle cx="245.8" cy="308" r="1.5" fill="#111"/>
<circle cx="250.7" cy="308" r="1.5" fill="#111"/>
<circle cx="242.1" cy="311.5" r="1.5" fill="#111"/>
<circle cx="258" cy="311.5" r="1.5" fill="#111"/>
<circle cx="243.4" cy="316.4" r="1.5" fill="#111"/>
<circle cx="249.5" cy="316.4" r="1.5" fill="#111"/>
<circle cx="258" cy="316.4" r="1.5" fill="#111"/>
<circle cx="243.4" cy="319.5" r="1.5" fill="#111"/>
<circle cx="254.4" cy="318.8" r="1.5" fill="#111"/>
<circle cx="248.2" cy="321.5" r="1.5" fill="#111"/>
<circle cx="276.4" cy="253.5" r="1.5" fill="#FA0A6A"/>
<circle cx="279.3" cy="255.2" r="1.5" fill="#FA0A6A"/>
<circle cx="279.3" cy="265" r="1.5" fill="#FA0A6A"/>
<circle cx="276.4" cy="284" r="1.5" fill="#FA0A6A"/>
<circle cx="281.8" cy="285.3" r="1.5" fill="#FA0A6A"/>
<circle cx="276.4" cy="287.7" r="1.5" fill="#FA0A6A"/>
<circle cx="279.3" cy="291.4" r="1.5" fill="#FA0A6A"/>
<circle cx="275.2" cy="293.4" r="1.5" fill="#FA0A6A"/>
<circle cx="282.5" cy="295" r="1.5" fill="#FA0A6A"/>
<circle cx="271.5" cy="297.5" r="1.5" fill="#FA0A6A"/>
<circle cx="277.6" cy="296.3" r="1.5" fill="#FA0A6A"/>
<circle cx="286.2" cy="300" r="1.5" fill="#FA0A6A"/>
<circle cx="276.5" cy="283.8" r="1.5" fill="#FA0A6A"/>
<circle cx="282.2" cy="285.1" r="1.5" fill="#FA0A6A"/>
<circle cx="276.5" cy="287.3" r="1.5" fill="#FA0A6A"/>
<circle cx="279.4" cy="289.6" r="1.5" fill="#FA0A6A"/>
<circle cx="282.2" cy="291.5" r="1.5" fill="#FA0A6A"/>
<circle cx="273.9" cy="294.1" r="1.5" fill="#FA0A6A"/>
<circle cx="276.5" cy="293.2" r="1.5" fill="#FA0A6A"/>
<circle cx="279.4" cy="296.1" r="1.5" fill="#FA0A6A"/>
<circle cx="271.4" cy="298.4" r="1.5" fill="#FA0A6A"/>
<circle cx="276.5" cy="298.9" r="1.5" fill="#FA0A6A"/>
<circle cx="282.2" cy="298" r="1.5" fill="#FA0A6A"/>
<circle cx="284.8" cy="298.4" r="1.5" fill="#FA0A6A"/>
<circle cx="273.9" cy="301" r="1.5" fill="#FA0A6A"/>
<circle cx="279.4" cy="301.2" r="1.5" fill="#FA0A6A"/>
<circle cx="287.4" cy="300.2" r="1.5" fill="#FA0A6A"/>
<circle cx="271.4" cy="303.2" r="1.5" fill="#FA0A6A"/>
<circle cx="276.5" cy="303.8" r="1.5" fill="#FA0A6A"/>
<circle cx="282.2" cy="303.5" r="1.5" fill="#FA0A6A"/>
<circle cx="287.4" cy="305.4" r="1.5" fill="#FA0A6A"/>
<circle cx="273.9" cy="305.7" r="1.5" fill="#FA0A6A"/>
<circle cx="279.4" cy="306.1" r="1.5" fill="#FA0A6A"/>
<circle cx="271.4" cy="307.9" r="1.5" fill="#FA0A6A"/>
<circle cx="276.5" cy="308.7" r="1.5" fill="#FA0A6A"/>
<circle cx="282.2" cy="307.9" r="1.5" fill="#FA0A6A"/>
<circle cx="284.8" cy="308.7" r="1.5" fill="#FA0A6A"/>
<circle cx="273.9" cy="310.5" r="1.5" fill="#FA0A6A"/>
<circle cx="279.4" cy="310.9" r="1.5" fill="#FA0A6A"/>
<circle cx="287.4" cy="309.6" r="1.5" fill="#FA0A6A"/>
<circle cx="271.4" cy="313.1" r="1.5" fill="#FA0A6A"/>
<circle cx="276.5" cy="313.1" r="1.5" fill="#FA0A6A"/>
<circle cx="282.2" cy="312.6" r="1.5" fill="#FA0A6A"/>
<circle cx="284.8" cy="313.5" r="1.5" fill="#FA0A6A"/>
<circle cx="287.4" cy="312.8" r="1.5" fill="#FA0A6A"/>
<circle cx="276.5" cy="316.1" r="1.5" fill="#FA0A6A"/>
<circle cx="279.4" cy="315.4" r="1.5" fill="#FA0A6A"/>
<circle cx="284.8" cy="315.7" r="1.5" fill="#FA0A6A"/>
<circle cx="282.2" cy="318.3" r="1.5" fill="#FA0A6A"/>
<circle cx="276.5" cy="320.3" r="1.5" fill="#FA0A6A"/>
<text transform="translate(253.00 336.70) rotate(-45)" font-size="7.65" font-weight="bold" text-anchor="end" fill="#1a1a1a" stroke="#1a1a1a" stroke-width="0.2" stroke-linejoin="round">Primary Infection</text>
<text transform="translate(281.70 336.70) rotate(-45)" font-size="7.65" font-weight="bold" text-anchor="end" fill="#1a1a1a" stroke="#1a1a1a" stroke-width="0.2" stroke-linejoin="round">Secondary Infection</text>
<text transform="translate(213.60 275.70) rotate(-90)" font-size="8.34" font-weight="bold" text-anchor="middle" fill="#1a1a1a" stroke="#1a1a1a" stroke-width="0.35" stroke-linejoin="round">Relative Percentage (%)</text>
<line x1="410.9" y1="232.4" x2="410.9" y2="331.20000000000005" stroke="#000" stroke-width="1.2"/>
<line x1="406.59999999999997" y1="330.6" x2="476.5" y2="330.6" stroke="#000" stroke-width="1.3"/>
<line x1="407.29999999999995" y1="329.8" x2="410.9" y2="329.8" stroke="#000" stroke-width="1"/>
<text transform="translate(405.90 332.50)" font-size="7.5" font-weight="bold" text-anchor="end" fill="#1a1a1a" stroke="#1a1a1a" stroke-width="0.1" stroke-linejoin="round">75</text>
<line x1="407.29999999999995" y1="310.3" x2="410.9" y2="310.3" stroke="#000" stroke-width="1"/>
<text transform="translate(405.90 313.00)" font-size="7.5" font-weight="bold" text-anchor="end" fill="#1a1a1a" stroke="#1a1a1a" stroke-width="0.1" stroke-linejoin="round">80</text>
<line x1="407.29999999999995" y1="290.8" x2="410.9" y2="290.8" stroke="#000" stroke-width="1"/>
<text transform="translate(405.90 293.50)" font-size="7.5" font-weight="bold" text-anchor="end" fill="#1a1a1a" stroke="#1a1a1a" stroke-width="0.1" stroke-linejoin="round">85</text>
<line x1="407.29999999999995" y1="271.2" x2="410.9" y2="271.2" stroke="#000" stroke-width="1"/>
<text transform="translate(405.90 273.90)" font-size="7.5" font-weight="bold" text-anchor="end" fill="#1a1a1a" stroke="#1a1a1a" stroke-width="0.1" stroke-linejoin="round">90</text>
<line x1="407.29999999999995" y1="251.8" x2="410.9" y2="251.8" stroke="#000" stroke-width="1"/>
<text transform="translate(405.90 254.50)" font-size="7.5" font-weight="bold" text-anchor="end" fill="#1a1a1a" stroke="#1a1a1a" stroke-width="0.1" stroke-linejoin="round">95</text>
<line x1="407.29999999999995" y1="232.4" x2="410.9" y2="232.4" stroke="#000" stroke-width="1"/>
<text transform="translate(405.90 235.10)" font-size="7.5" font-weight="bold" text-anchor="end" fill="#1a1a1a" stroke="#1a1a1a" stroke-width="0.1" stroke-linejoin="round">100</text>
<line x1="429.0" y1="330.6" x2="429.0" y2="334.90000000000003" stroke="#000" stroke-width="1"/>
<line x1="457.3" y1="330.6" x2="457.3" y2="334.90000000000003" stroke="#000" stroke-width="1"/>
<text transform="translate(410.00 208.90)" font-size="8.2" font-weight="bold" text-anchor="start" fill="#1a1a1a" stroke="#1a1a1a" stroke-width="0.2" stroke-linejoin="round">Bifucosylation</text>
<text transform="translate(430.50 225.00) scale(1 1.16)" font-size="8.1" font-weight="normal" text-anchor="start" fill="#1a1a1a" stroke="#1a1a1a" stroke-width="0.12" stroke-linejoin="round" textLength="24.0" lengthAdjust="spacingAndGlyphs">0.0360</text>
<path d="M429.0,234.7 L429.0,229.3 L457.3,229.3 L457.3,239.4" fill="none" stroke="#000" stroke-width="1.1"/>
<line x1="419.7" y1="266.4" x2="438.9" y2="266.4" stroke="#111" stroke-width="1.1"/>
<line x1="447.5" y1="270.0" x2="467.0" y2="270.0" stroke="#111" stroke-width="1.1"/>
<circle cx="429" cy="241" r="1.5" fill="#111"/>
<circle cx="429" cy="246.9" r="1.5" fill="#111"/>
<circle cx="429" cy="249.9" r="1.5" fill="#111"/>
<circle cx="421" cy="252.3" r="1.5" fill="#111"/>
<circle cx="423.4" cy="251.5" r="1.5" fill="#111"/>
<circle cx="426.5" cy="252.1" r="1.5" fill="#111"/>
<circle cx="429" cy="253.6" r="1.5" fill="#111"/>
<circle cx="431.5" cy="252.3" r="1.5" fill="#111"/>
<circle cx="434.3" cy="252.1" r="1.5" fill="#111"/>
<circle cx="437" cy="252.3" r="1.5" fill="#111"/>
<circle cx="426.9" cy="258" r="1.5" fill="#111"/>
<circle cx="429" cy="256.8" r="1.5" fill="#111"/>
<circle cx="425.9" cy="258.9" r="1.5" fill="#111"/>
<circle cx="428.4" cy="261.4" r="1.5" fill="#111"/>
<circle cx="432.1" cy="261.4" r="1.5" fill="#111"/>
<circle cx="429" cy="263.8" r="1.5" fill="#111"/>
<circle cx="429" cy="266.7" r="1.5" fill="#111"/>
<circle cx="426.5" cy="268.4" r="1.5" fill="#111"/>
<circle cx="429.4" cy="268.8" r="1.5" fill="#111"/>
<circle cx="432.1" cy="269.4" r="1.5" fill="#111"/>
<circle cx="423.7" cy="272.9" r="1.5" fill="#111"/>
<circle cx="425.7" cy="274.6" r="1.5" fill="#111"/>
<circle cx="423.7" cy="276.2" r="1.5" fill="#111"/>
<circle cx="431.5" cy="275.4" r="1.5" fill="#111"/>
<circle cx="434.6" cy="275" r="1.5" fill="#111"/>
<circle cx="429" cy="278.7" r="1.5" fill="#111"/>
<circle cx="431.8" cy="278.7" r="1.5" fill="#111"/>
<circle cx="429" cy="283" r="1.5" fill="#111"/>
<circle cx="429.3" cy="290.3" r="1.5" fill="#111"/>
<circle cx="429.3" cy="296.4" r="1.5" fill="#111"/>
<circle cx="430.1" cy="309.9" r="1.5" fill="#111"/>
<circle cx="427.8" cy="311.4" r="1.5" fill="#111"/>
<circle cx="457.3" cy="245.6" r="1.5" fill="#FA0A6A"/>
<circle cx="457.3" cy="253.6" r="1.5" fill="#FA0A6A"/>
<circle cx="457.2" cy="257.3" r="1.5" fill="#FA0A6A"/>
<circle cx="453.3" cy="262.4" r="1.5" fill="#FA0A6A"/>
<circle cx="457.2" cy="262.4" r="1.5" fill="#FA0A6A"/>
<circle cx="461" cy="264" r="1.5" fill="#FA0A6A"/>
<circle cx="449.4" cy="266.6" r="1.5" fill="#FA0A6A"/>
<circle cx="453.3" cy="267.1" r="1.5" fill="#FA0A6A"/>
<circle cx="457.2" cy="267.1" r="1.5" fill="#FA0A6A"/>
<circle cx="461" cy="267.1" r="1.5" fill="#FA0A6A"/>
<circle cx="449.4" cy="270.2" r="1.5" fill="#FA0A6A"/>
<circle cx="453.3" cy="270.5" r="1.5" fill="#FA0A6A"/>
<circle cx="457.2" cy="270.8" r="1.5" fill="#FA0A6A"/>
<circle cx="461" cy="270.5" r="1.5" fill="#FA0A6A"/>
<circle cx="464.9" cy="269.5" r="1.5" fill="#FA0A6A"/>
<circle cx="453.3" cy="279.4" r="1.5" fill="#FA0A6A"/>
<circle cx="457.2" cy="279.4" r="1.5" fill="#FA0A6A"/>
<circle cx="461" cy="277" r="1.5" fill="#FA0A6A"/>
<circle cx="457.2" cy="284.1" r="1.5" fill="#FA0A6A"/>
<circle cx="461" cy="282.5" r="1.5" fill="#FA0A6A"/>
<circle cx="457.2" cy="288.2" r="1.5" fill="#FA0A6A"/>
<circle cx="461" cy="287.2" r="1.5" fill="#FA0A6A"/>
<circle cx="455.6" cy="306.9" r="1.5" fill="#FA0A6A"/>
<circle cx="459.6" cy="308.7" r="1.5" fill="#FA0A6A"/>
<circle cx="457.3" cy="314.1" r="1.5" fill="#FA0A6A"/>
<circle cx="459.1" cy="323.5" r="1.5" fill="#FA0A6A"/>
<circle cx="455.5" cy="326.5" r="1.5" fill="#FA0A6A"/>
<text transform="translate(431.50 341.60) rotate(-45)" font-size="7.65" font-weight="bold" text-anchor="end" fill="#1a1a1a" stroke="#1a1a1a" stroke-width="0.2" stroke-linejoin="round">DF</text>
<text transform="translate(459.80 341.60) rotate(-45)" font-size="7.65" font-weight="bold" text-anchor="end" fill="#1a1a1a" stroke="#1a1a1a" stroke-width="0.2" stroke-linejoin="round">DHF/DSS</text>
<text transform="translate(387.90 281.35) rotate(-90)" font-size="8.17" font-weight="bold" text-anchor="middle" fill="#1a1a1a" stroke="#1a1a1a" stroke-width="0.35" stroke-linejoin="round">Relative Percentage (%)</text>
<line x1="513.2" y1="228.3" x2="513.2" y2="330.0" stroke="#000" stroke-width="1.2"/>
<line x1="508.90000000000003" y1="329.4" x2="581.0" y2="329.4" stroke="#000" stroke-width="1.3"/>
<line x1="509.6" y1="329.5" x2="513.2" y2="329.5" stroke="#000" stroke-width="1"/>
<text transform="translate(508.20 332.20)" font-size="7.5" font-weight="bold" text-anchor="end" fill="#1a1a1a" stroke="#1a1a1a" stroke-width="0.1" stroke-linejoin="round">0</text>
<line x1="509.6" y1="304.2" x2="513.2" y2="304.2" stroke="#000" stroke-width="1"/>
<text transform="translate(508.20 306.90)" font-size="7.5" font-weight="bold" text-anchor="end" fill="#1a1a1a" stroke="#1a1a1a" stroke-width="0.1" stroke-linejoin="round">5</text>
<line x1="509.6" y1="278.9" x2="513.2" y2="278.9" stroke="#000" stroke-width="1"/>
<text transform="translate(508.20 281.60)" font-size="7.5" font-weight="bold" text-anchor="end" fill="#1a1a1a" stroke="#1a1a1a" stroke-width="0.1" stroke-linejoin="round">10</text>
<line x1="509.6" y1="253.6" x2="513.2" y2="253.6" stroke="#000" stroke-width="1"/>
<text transform="translate(508.20 256.30)" font-size="7.5" font-weight="bold" text-anchor="end" fill="#1a1a1a" stroke="#1a1a1a" stroke-width="0.1" stroke-linejoin="round">15</text>
<line x1="509.6" y1="228.3" x2="513.2" y2="228.3" stroke="#000" stroke-width="1"/>
<text transform="translate(508.20 231.00)" font-size="7.5" font-weight="bold" text-anchor="end" fill="#1a1a1a" stroke="#1a1a1a" stroke-width="0.1" stroke-linejoin="round">20</text>
<line x1="532.4" y1="329.4" x2="532.4" y2="333.7" stroke="#000" stroke-width="1"/>
<line x1="561.5" y1="329.4" x2="561.5" y2="333.7" stroke="#000" stroke-width="1"/>
<text transform="translate(509.90 209.00)" font-size="8.2" font-weight="bold" text-anchor="start" fill="#1a1a1a" stroke="#1a1a1a" stroke-width="0.2" stroke-linejoin="round">Monofucosylation</text>
<text transform="translate(534.00 250.30) scale(1 1.16)" font-size="8.1" font-weight="normal" text-anchor="start" fill="#1a1a1a" stroke="#1a1a1a" stroke-width="0.12" stroke-linejoin="round" textLength="24.0" lengthAdjust="spacingAndGlyphs">0.0103</text>
<path d="M532.4,262.8 L532.4,254.3 L561.5,254.3 L561.5,260.4" fill="none" stroke="#000" stroke-width="1.1"/>
<line x1="523.1" y1="310.7" x2="542.3" y2="310.7" stroke="#111" stroke-width="1.1"/>
<line x1="551.9" y1="301.0" x2="570.9" y2="301.0" stroke="#111" stroke-width="1.1"/>
<circle cx="532.4" cy="269" r="1.5" fill="#111"/>
<circle cx="533.3" cy="272.7" r="1.5" fill="#111"/>
<circle cx="534.6" cy="283.1" r="1.5" fill="#111"/>
<circle cx="532.6" cy="284.7" r="1.5" fill="#111"/>
<circle cx="530.5" cy="285.6" r="1.5" fill="#111"/>
<circle cx="532.4" cy="288.7" r="1.5" fill="#111"/>
<circle cx="532.4" cy="294.9" r="1.5" fill="#111"/>
<circle cx="528.7" cy="301.3" r="1.5" fill="#111"/>
<circle cx="531.8" cy="299.8" r="1.5" fill="#111"/>
<circle cx="534.2" cy="299.8" r="1.5" fill="#111"/>
<circle cx="536.1" cy="301.7" r="1.5" fill="#111"/>
<circle cx="532.4" cy="302.5" r="1.5" fill="#111"/>
<circle cx="532.4" cy="306.6" r="1.5" fill="#111"/>
<circle cx="525" cy="309.7" r="1.5" fill="#111"/>
<circle cx="527.4" cy="310.3" r="1.5" fill="#111"/>
<circle cx="529.9" cy="309.7" r="1.5" fill="#111"/>
<circle cx="534.9" cy="310.3" r="1.5" fill="#111"/>
<circle cx="538.6" cy="309.9" r="1.5" fill="#111"/>
<circle cx="541" cy="311.6" r="1.5" fill="#111"/>
<circle cx="524.3" cy="313.2" r="1.5" fill="#111"/>
<circle cx="526.8" cy="312.4" r="1.5" fill="#111"/>
<circle cx="531.8" cy="311.9" r="1.5" fill="#111"/>
<circle cx="534.9" cy="313.2" r="1.5" fill="#111"/>
<circle cx="538" cy="312.4" r="1.5" fill="#111"/>
<circle cx="528.7" cy="316.9" r="1.5" fill="#111"/>
<circle cx="531.1" cy="318.4" r="1.5" fill="#111"/>
<circle cx="533.6" cy="319.9" r="1.5" fill="#111"/>
<circle cx="536.1" cy="318.4" r="1.5" fill="#111"/>
<circle cx="532.4" cy="323.3" r="1.5" fill="#111"/>
<circle cx="561.6" cy="266.3" r="1.5" fill="#FA0A6A"/>
<circle cx="560.4" cy="274.1" r="1.5" fill="#FA0A6A"/>
<circle cx="562.7" cy="273.1" r="1.5" fill="#FA0A6A"/>
<circle cx="560.4" cy="281.3" r="1.5" fill="#FA0A6A"/>
<circle cx="562.7" cy="280.6" r="1.5" fill="#FA0A6A"/>
<circle cx="561.6" cy="288.3" r="1.5" fill="#FA0A6A"/>
<circle cx="558.1" cy="293.7" r="1.5" fill="#FA0A6A"/>
<circle cx="560.4" cy="294.5" r="1.5" fill="#FA0A6A"/>
<circle cx="563.5" cy="295.2" r="1.5" fill="#FA0A6A"/>
<circle cx="565" cy="291.4" r="1.5" fill="#FA0A6A"/>
<circle cx="565.8" cy="294.5" r="1.5" fill="#FA0A6A"/>
<circle cx="554.2" cy="299.9" r="1.5" fill="#FA0A6A"/>
<circle cx="553.4" cy="302.5" r="1.5" fill="#FA0A6A"/>
<circle cx="557.3" cy="299.1" r="1.5" fill="#FA0A6A"/>
<circle cx="559.6" cy="300.7" r="1.5" fill="#FA0A6A"/>
<circle cx="562.7" cy="301.4" r="1.5" fill="#FA0A6A"/>
<circle cx="566.6" cy="299.9" r="1.5" fill="#FA0A6A"/>
<circle cx="569.6" cy="298.3" r="1.5" fill="#FA0A6A"/>
<circle cx="569.6" cy="301.9" r="1.5" fill="#FA0A6A"/>
<circle cx="556.5" cy="303.8" r="1.5" fill="#FA0A6A"/>
<circle cx="560.4" cy="303.4" r="1.5" fill="#FA0A6A"/>
<circle cx="565" cy="303" r="1.5" fill="#FA0A6A"/>
<circle cx="558.8" cy="307.6" r="1.5" fill="#FA0A6A"/>
<circle cx="562.7" cy="306.8" r="1.5" fill="#FA0A6A"/>
<circle cx="565" cy="305.3" r="1.5" fill="#FA0A6A"/>
<circle cx="560.4" cy="310" r="1.5" fill="#FA0A6A"/>
<circle cx="562.7" cy="315.3" r="1.5" fill="#FA0A6A"/>
<circle cx="560.1" cy="318" r="1.5" fill="#FA0A6A"/>
<text transform="translate(534.90 340.40) rotate(-45)" font-size="7.65" font-weight="bold" text-anchor="end" fill="#1a1a1a" stroke="#1a1a1a" stroke-width="0.2" stroke-linejoin="round">DF</text>
<text transform="translate(564.00 340.40) rotate(-45)" font-size="7.65" font-weight="bold" text-anchor="end" fill="#1a1a1a" stroke="#1a1a1a" stroke-width="0.2" stroke-linejoin="round">DHF/DSS</text>
<text transform="translate(494.70 278.25) rotate(-90)" font-size="8.37" font-weight="bold" text-anchor="middle" fill="#1a1a1a" stroke="#1a1a1a" stroke-width="0.35" stroke-linejoin="round">Relative Percentage (%)</text>
<line x1="617.3" y1="229.0" x2="617.3" y2="329.90000000000003" stroke="#000" stroke-width="1.2"/>
<line x1="613.0" y1="329.3" x2="685.0" y2="329.3" stroke="#000" stroke-width="1.3"/>
<line x1="613.6999999999999" y1="329.4" x2="617.3" y2="329.4" stroke="#000" stroke-width="1"/>
<text transform="translate(612.30 332.10)" font-size="7.5" font-weight="bold" text-anchor="end" fill="#1a1a1a" stroke="#1a1a1a" stroke-width="0.1" stroke-linejoin="round">0</text>
<line x1="613.6999999999999" y1="304.3" x2="617.3" y2="304.3" stroke="#000" stroke-width="1"/>
<text transform="translate(612.30 307.00)" font-size="7.5" font-weight="bold" text-anchor="end" fill="#1a1a1a" stroke="#1a1a1a" stroke-width="0.1" stroke-linejoin="round">5</text>
<line x1="613.6999999999999" y1="279.2" x2="617.3" y2="279.2" stroke="#000" stroke-width="1"/>
<text transform="translate(612.30 281.90)" font-size="7.5" font-weight="bold" text-anchor="end" fill="#1a1a1a" stroke="#1a1a1a" stroke-width="0.1" stroke-linejoin="round">10</text>
<line x1="613.6999999999999" y1="254.2" x2="617.3" y2="254.2" stroke="#000" stroke-width="1"/>
<text transform="translate(612.30 256.90)" font-size="7.5" font-weight="bold" text-anchor="end" fill="#1a1a1a" stroke="#1a1a1a" stroke-width="0.1" stroke-linejoin="round">15</text>
<line x1="613.6999999999999" y1="229.0" x2="617.3" y2="229.0" stroke="#000" stroke-width="1"/>
<text transform="translate(612.30 231.70)" font-size="7.5" font-weight="bold" text-anchor="end" fill="#1a1a1a" stroke="#1a1a1a" stroke-width="0.1" stroke-linejoin="round">20</text>
<line x1="636.0" y1="329.3" x2="636.0" y2="333.6" stroke="#000" stroke-width="1"/>
<line x1="665.2" y1="329.3" x2="665.2" y2="333.6" stroke="#000" stroke-width="1"/>
<text transform="translate(622.30 209.00)" font-size="8.2" font-weight="bold" text-anchor="start" fill="#1a1a1a" stroke="#1a1a1a" stroke-width="0.2" stroke-linejoin="round">Afucosylation</text>
<text transform="translate(638.10 240.40) scale(1 1.16)" font-size="8.1" font-weight="normal" text-anchor="start" fill="#1a1a1a" stroke="#1a1a1a" stroke-width="0.12" stroke-linejoin="round" textLength="24.0" lengthAdjust="spacingAndGlyphs">0.2639</text>
<path d="M636.0,280.0 L636.0,244.2 L665.2,244.2 L665.2,249.8" fill="none" stroke="#000" stroke-width="1.1"/>
<line x1="627.1" y1="309.9" x2="645.7" y2="309.9" stroke="#111" stroke-width="1.1"/>
<line x1="655.4" y1="307.3" x2="675.1" y2="307.3" stroke="#111" stroke-width="1.1"/>
<circle cx="634.8" cy="287.1" r="1.5" fill="#111"/>
<circle cx="638" cy="288.4" r="1.5" fill="#111"/>
<circle cx="634.8" cy="292.2" r="1.5" fill="#111"/>
<circle cx="638" cy="293.5" r="1.5" fill="#111"/>
<circle cx="631.6" cy="299.3" r="1.5" fill="#111"/>
<circle cx="634.8" cy="301.2" r="1.5" fill="#111"/>
<circle cx="638" cy="300.9" r="1.5" fill="#111"/>
<circle cx="641.2" cy="301.9" r="1.5" fill="#111"/>
<circle cx="644.5" cy="300" r="1.5" fill="#111"/>
<circle cx="631.6" cy="304.5" r="1.5" fill="#111"/>
<circle cx="638" cy="304.5" r="1.5" fill="#111"/>
<circle cx="644.5" cy="304.7" r="1.5" fill="#111"/>
<circle cx="634.8" cy="307" r="1.5" fill="#111"/>
<circle cx="641.2" cy="307" r="1.5" fill="#111"/>
<circle cx="631.6" cy="309.6" r="1.5" fill="#111"/>
<circle cx="638" cy="309.9" r="1.5" fill="#111"/>
<circle cx="641.2" cy="310.9" r="1.5" fill="#111"/>
<circle cx="634.8" cy="311.9" r="1.5" fill="#111"/>
<circle cx="631.6" cy="314.1" r="1.5" fill="#111"/>
<circle cx="634.8" cy="314.8" r="1.5" fill="#111"/>
<circle cx="638" cy="314.8" r="1.5" fill="#111"/>
<circle cx="644.5" cy="315" r="1.5" fill="#111"/>
<circle cx="628.4" cy="316" r="1.5" fill="#111"/>
<circle cx="641.2" cy="316.7" r="1.5" fill="#111"/>
<circle cx="638" cy="318" r="1.5" fill="#111"/>
<circle cx="628.4" cy="319.3" r="1.5" fill="#111"/>
<circle cx="644.5" cy="319.3" r="1.5" fill="#111"/>
<circle cx="641.2" cy="320.2" r="1.5" fill="#111"/>
<circle cx="634.8" cy="321.5" r="1.5" fill="#111"/>
<circle cx="638" cy="321.8" r="1.5" fill="#111"/>
<circle cx="634.8" cy="324.4" r="1.5" fill="#111"/>
<circle cx="661.5" cy="256.8" r="1.5" fill="#FA0A6A"/>
<circle cx="665.4" cy="258.6" r="1.5" fill="#FA0A6A"/>
<circle cx="664.9" cy="267.8" r="1.5" fill="#FA0A6A"/>
<circle cx="665.1" cy="290.6" r="1.5" fill="#FA0A6A"/>
<circle cx="661.2" cy="294.8" r="1.5" fill="#FA0A6A"/>
<circle cx="665.1" cy="297" r="1.5" fill="#FA0A6A"/>
<circle cx="669.6" cy="296.5" r="1.5" fill="#FA0A6A"/>
<circle cx="661.2" cy="299.6" r="1.5" fill="#FA0A6A"/>
<circle cx="669.6" cy="300.9" r="1.5" fill="#FA0A6A"/>
<circle cx="657.3" cy="303.4" r="1.5" fill="#FA0A6A"/>
<circle cx="665.1" cy="303.8" r="1.5" fill="#FA0A6A"/>
<circle cx="657.3" cy="307.3" r="1.5" fill="#FA0A6A"/>
<circle cx="665.1" cy="308.3" r="1.5" fill="#FA0A6A"/>
<circle cx="669.6" cy="307" r="1.5" fill="#FA0A6A"/>
<circle cx="673.4" cy="306.8" r="1.5" fill="#FA0A6A"/>
<circle cx="661.2" cy="311.2" r="1.5" fill="#FA0A6A"/>
<circle cx="665.1" cy="312.2" r="1.5" fill="#FA0A6A"/>
<circle cx="669.6" cy="310.6" r="1.5" fill="#FA0A6A"/>
<circle cx="673.4" cy="311.2" r="1.5" fill="#FA0A6A"/>
<circle cx="657.3" cy="313.2" r="1.5" fill="#FA0A6A"/>
<circle cx="665.1" cy="314.8" r="1.5" fill="#FA0A6A"/>
<circle cx="669.6" cy="314.5" r="1.5" fill="#FA0A6A"/>
<circle cx="657.3" cy="316.7" r="1.5" fill="#FA0A6A"/>
<circle cx="665.1" cy="317.3" r="1.5" fill="#FA0A6A"/>
<circle cx="673.4" cy="316.7" r="1.5" fill="#FA0A6A"/>
<circle cx="665.1" cy="319.9" r="1.5" fill="#FA0A6A"/>
<circle cx="669.6" cy="318.6" r="1.5" fill="#FA0A6A"/>
<circle cx="665.1" cy="323.8" r="1.5" fill="#FA0A6A"/>
<text transform="translate(638.50 340.30) rotate(-45)" font-size="7.65" font-weight="bold" text-anchor="end" fill="#1a1a1a" stroke="#1a1a1a" stroke-width="0.2" stroke-linejoin="round">DF</text>
<text transform="translate(667.70 340.30) rotate(-45)" font-size="7.65" font-weight="bold" text-anchor="end" fill="#1a1a1a" stroke="#1a1a1a" stroke-width="0.2" stroke-linejoin="round">DHF/DSS</text>
<text transform="translate(598.70 279.05) rotate(-90)" font-size="8.37" font-weight="bold" text-anchor="middle" fill="#1a1a1a" stroke="#1a1a1a" stroke-width="0.35" stroke-linejoin="round">Relative Percentage (%)</text>
<line x1="311.2" y1="208.4" x2="324.0" y2="208.4" stroke="#3a3a3a" stroke-width="0.9"/>
<line x1="344.29999999999995" y1="208.4" x2="357.4" y2="208.4" stroke="#3a3a3a" stroke-width="0.9"/>
<line x1="316.9" y1="201.4" x2="316.9" y2="205.9" stroke="#9a9a9a" stroke-width="1"/>
<path d="M312.7,196.0 L321.09999999999997,196.0 L316.9,202.0 Z" fill="#E3262B"/>
<rect x="313.79999999999995" y="205.4" width="6.2" height="6.0" rx="0.5" fill="#2C70D8"/>
<line x1="351.2" y1="201.4" x2="351.2" y2="205.9" stroke="#9a9a9a" stroke-width="1"/>
<path d="M347.0,196.0 L355.4,196.0 L351.2,202.0 Z" fill="#E3262B"/>
<rect x="348.09999999999997" y="205.4" width="6.2" height="6.0" rx="0.5" fill="#2C70D8"/>
<rect x="323.5" y="199.9" width="9.7" height="32.69999999999999" rx="2" fill="#6A4BB0"/>
<path d="M323.3,215.0 L324.5,216.1 L323.3,217.2 Z M333.4,215.0 L332.2,216.1 L333.4,217.2 Z" fill="#fff"/>
<rect x="335.09999999999997" y="199.9" width="9.7" height="32.69999999999999" rx="2" fill="#6A4BB0"/>
<path d="M334.9,215.0 L336.09999999999997,216.1 L334.9,217.2 Z M344.99999999999994,215.0 L343.79999999999995,216.1 L344.99999999999994,217.2 Z" fill="#fff"/>
<path d="M328.6,200.4 L328.6,193.6 L325.8,189.70000000000002" fill="none" stroke="#6A4BB0" stroke-width="2.7" stroke-linecap="butt" stroke-linejoin="round"/>
<path d="M339.69999999999993,200.4 L339.69999999999993,193.6 L342.49999999999994,189.70000000000002" fill="none" stroke="#6A4BB0" stroke-width="2.7" stroke-linecap="butt" stroke-linejoin="round"/>
<line x1="328.5" y1="197.6" x2="339.79999999999995" y2="197.6" stroke="#6A4BB0" stroke-width="1.9"/>
<path d="M333.54999999999995,198.4 L334.75,198.4 L334.54999999999995,200.9 L333.75,200.9 Z" fill="#6A4BB0"/>
<text transform="translate(307.20 242.80)" font-size="6.9" font-weight="bold" text-anchor="start" fill="#1a1a1a" stroke="#1a1a1a" stroke-width="0.2" stroke-linejoin="round">Bifucosylated Fc</text>
<line x1="311.2" y1="267.5" x2="324.7" y2="267.5" stroke="#3a3a3a" stroke-width="0.9"/>
<line x1="344.99999999999994" y1="267.5" x2="358.6" y2="267.5" stroke="#3a3a3a" stroke-width="0.9"/>
<line x1="317.0" y1="260.5" x2="317.0" y2="265.0" stroke="#9a9a9a" stroke-width="1"/>
<path d="M312.8,255.1 L321.2,255.1 L317.0,261.1 Z" fill="#E3262B"/>
<rect x="313.9" y="264.5" width="6.2" height="6.0" rx="0.5" fill="#2C70D8"/>
<rect x="348.9" y="264.5" width="6.2" height="6.0" rx="0.5" fill="#2C70D8"/>
<rect x="324.2" y="259.2" width="9.7" height="32.80000000000001" rx="2" fill="#1E8FFF"/>
<path d="M324.0,274.59999999999997 L325.2,275.7 L324.0,276.8 Z M334.09999999999997,274.59999999999997 L332.9,275.7 L334.09999999999997,276.8 Z" fill="#fff"/>
<rect x="335.79999999999995" y="259.2" width="9.7" height="32.80000000000001" rx="2" fill="#1E8FFF"/>
<path d="M335.59999999999997,274.59999999999997 L336.79999999999995,275.7 L335.59999999999997,276.8 Z M345.69999999999993,274.59999999999997 L344.49999999999994,275.7 L345.69999999999993,276.8 Z" fill="#fff"/>
<path d="M329.3,259.7 L329.3,252.89999999999998 L326.5,249.0" fill="none" stroke="#1E8FFF" stroke-width="2.7" stroke-linecap="butt" stroke-linejoin="round"/>
<path d="M340.3999999999999,259.7 L340.3999999999999,252.89999999999998 L343.19999999999993,249.0" fill="none" stroke="#1E8FFF" stroke-width="2.7" stroke-linecap="butt" stroke-linejoin="round"/>
<line x1="329.2" y1="256.9" x2="340.49999999999994" y2="256.9" stroke="#1E8FFF" stroke-width="1.9"/>
<path d="M334.24999999999994,257.7 L335.45,257.7 L335.24999999999994,260.2 L334.45,260.2 Z" fill="#1E8FFF"/>
<text transform="translate(304.00 303.50)" font-size="6.9" font-weight="bold" text-anchor="start" fill="#1a1a1a" stroke="#1a1a1a" stroke-width="0.2" stroke-linejoin="round">Monofucosylated Fc</text>
<line x1="309.1" y1="331.5" x2="323.5" y2="331.5" stroke="#3a3a3a" stroke-width="0.9"/>
<line x1="343.79999999999995" y1="331.5" x2="359.2" y2="331.5" stroke="#3a3a3a" stroke-width="0.9"/>
<rect x="312.29999999999995" y="328.5" width="6.2" height="6.0" rx="0.5" fill="#2C70D8"/>
<rect x="349.59999999999997" y="328.5" width="6.2" height="6.0" rx="0.5" fill="#2C70D8"/>
<rect x="323.0" y="319.1" width="9.7" height="16.899999999999977" rx="1.8" fill="#C83E98"/>
<rect x="323.0" y="337.3" width="9.7" height="17.50000000000001" rx="1.8" fill="#C83E98"/>
<rect x="323.5" y="335.7" width="8.7" height="1.8" fill="#D770B2"/>
<rect x="334.59999999999997" y="319.1" width="9.7" height="16.899999999999977" rx="1.8" fill="#C83E98"/>
<rect x="334.59999999999997" y="337.3" width="9.7" height="17.50000000000001" rx="1.8" fill="#C83E98"/>
<rect x="335.09999999999997" y="335.7" width="8.7" height="1.8" fill="#D770B2"/>
<rect x="324.0" y="319.1" width="19.299999999999955" height="1.6" fill="#C83E98"/>
<path d="M328.6,320.1 L328.0,317.6 L325.4,310.8" fill="none" stroke="#C83E98" stroke-width="2.9" stroke-linejoin="round"/>
<path d="M338.69999999999993,320.1 L339.29999999999995,317.6 L341.9,310.8" fill="none" stroke="#C83E98" stroke-width="2.9" stroke-linejoin="round"/>
<text transform="translate(309.90 366.70)" font-size="6.9" font-weight="bold" text-anchor="start" fill="#1a1a1a" stroke="#1a1a1a" stroke-width="0.2" stroke-linejoin="round">Afucosylated Fc</text></svg></body></html>
